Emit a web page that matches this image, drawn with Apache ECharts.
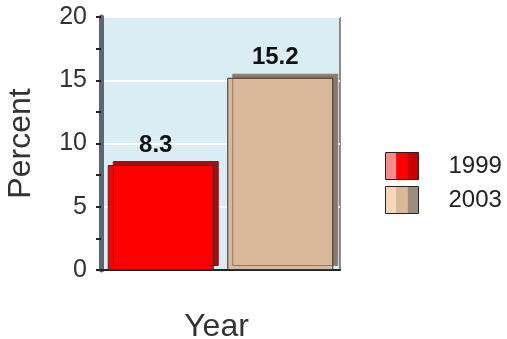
<!DOCTYPE html>
<html>
<head>
<meta charset="utf-8">
<script src="https://cdn.jsdelivr.net/npm/echarts@6/dist/echarts.min.js"></script>
<style>
html, body { margin: 0; padding: 0; background: #fff; }
#chart { width: 507px; height: 339px; }
</style>
</head>
<body>
<div id="chart"></div>
<script>
var years = ['1999', '2003'];
var values = [8.3, 15.2];
var yTicks = [0, 5, 10, 15, 20];

var faceColors = ['#ff0000', '#d9b99a'];
var sideColors = ['#a01010', '#8c7a68'];
var legendBands = [
    ['#f48c8c', '#ff0000', '#c80000'],
    ['#f3d9b9', '#d6b996', '#9c8e7c']
];

function bandGradient(c) {
    return new echarts.graphic.LinearGradient(0, 0, 1, 0, [
        { offset: 0, color: c[0] }, { offset: 0.33, color: c[0] },
        { offset: 0.34, color: c[1] }, { offset: 0.66, color: c[1] },
        { offset: 0.67, color: c[2] }, { offset: 1, color: c[2] }
    ]);
}

var chart = echarts.init(document.getElementById('chart'));

var series = [];
for (var i = 0; i < years.length; i++) {
    var d = [];
    for (var j = 0; j < years.length; j++) d.push(i == j ? values[i] : '-');
    series.push({
        name: years[i],
        type: 'bar',
        stack: 'all',
        barWidth: 106,
        data: d,
        itemStyle: {
            color: faceColors[i],
            borderColor: '#333',
            borderWidth: 1,
            shadowColor: sideColors[i],
            shadowOffsetX: 5,
            shadowOffsetY: -4,
            shadowBlur: 0
        },
        label: {
            show: true,
            position: 'top',
            distance: 8,
            offset: [-5, 0],
            fontSize: 24,
            fontWeight: 'bold',
            color: '#111',
            fontFamily: 'Liberation Sans'
        }
    });
}

chart.setOption({
    animation: false,
    grid: {
        left: 101, top: 17, width: 239, height: 253,
        outerBoundsMode: 'none',
        containLabel: false,
        show: true,
        backgroundColor: '#dbedf4',
        borderColor: '#222',
        borderWidth: 1
    },
    legend: {
        orient: 'vertical',
        left: 380,
        top: 147,
        itemWidth: 33,
        itemHeight: 27,
        itemGap: 6,
        textStyle: { fontSize: 24, color: '#222', fontFamily: 'Liberation Sans', padding: [0, 0, 0, 25] },
        data: years.map(function (y, k) {
            return { name: y, icon: 'rect', itemStyle: { color: bandGradient(legendBands[k]), borderColor: '#222', borderWidth: 1 } };
        })
    },
    xAxis: {
        type: 'category',
        data: years,
        name: 'Year',
        nameLocation: 'middle',
        nameGap: 41,
        nameTextStyle: { fontSize: 32, color: '#333', fontFamily: 'Liberation Sans', padding: [0, 8, 0, 0] },
        axisLabel: { show: false },
        axisTick: { show: false },
        axisLine: { lineStyle: { color: '#222', width: 2 } }
    },
    yAxis: {
        type: 'value',
        min: yTicks[0],
        max: yTicks[yTicks.length - 1],
        interval: 5,
        name: 'Percent',
        nameLocation: 'middle',
        nameGap: 64,
        nameTextStyle: { fontSize: 32, color: '#333', fontFamily: 'Liberation Sans' },
        axisLabel: { fontSize: 25, color: '#333', fontFamily: 'Liberation Sans', margin: 14 },
        axisTick: { show: true, length: 5, lineStyle: { color: '#222', width: 2 } },
        minorTick: { show: true, splitNumber: 2, length: 5, lineStyle: { color: '#222', width: 2 } },
        axisLine: { show: true, lineStyle: { color: '#5a6770', width: 5 } },
        splitLine: { lineStyle: { color: '#ffffff', width: 2 } }
    },
    series: series
});
</script>
</body>
</html>
